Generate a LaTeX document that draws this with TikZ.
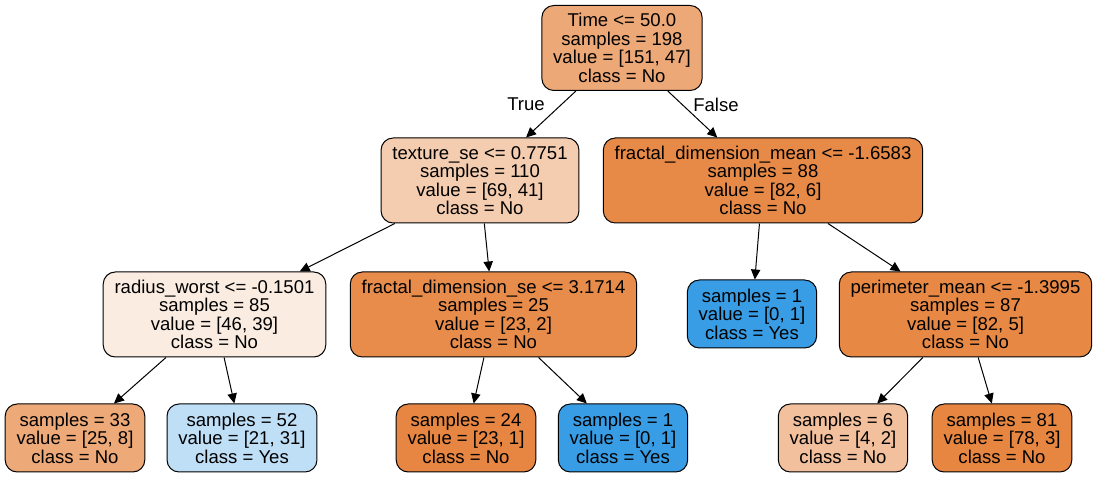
\documentclass[tikz,border=0pt]{standalone}
\usepackage{fontspec}
\setmainfont{Liberation Sans}
\usetikzlibrary{arrows.meta}
\definecolor{nroot}{HTML}{EDA877}
\definecolor{ntex}{HTML}{F4CCAF}
\definecolor{nfdm}{HTML}{E78A47}
\definecolor{nrad}{HTML}{FBECE1}
\definecolor{nfds}{HTML}{E78C4A}
\definecolor{nyes}{HTML}{399DE5}
\definecolor{nper}{HTML}{E78945}
\definecolor{nla}{HTML}{EDA978}
\definecolor{nlb}{HTML}{BFDFF7}
\definecolor{nlc}{HTML}{E68642}
\definecolor{nld}{HTML}{F2C09C}
\definecolor{nle}{HTML}{E68641}
\begin{document}
\begin{tikzpicture}[x=0.75pt,y=-0.75pt,
  txt/.style={font=\fontsize{13.9}{13.9}\selectfont},
  box/.style={txt, draw=black, line width=0.75pt, rounded corners=9pt,
    align=center, inner xsep=8.5pt, inner ysep=0pt},
  split/.style={box, minimum height=63.75pt},
  leaf/.style={box, minimum height=51pt},
  edge/.style={-{Triangle[length=7.5pt,width=7pt]}, line width=0.75pt}]
\useasboundingbox (0,0) rectangle (1097,477);
% top
\node[split, fill=nroot] (root) at (622,48) {Time <= 50.0\\samples = 198\\value = [151, 47]\\class = No};
% second row
\node[split, fill=ntex] (tex) at (480,180.5) {texture\_se <= 0.7751\\samples = 110\\value = [69, 41]\\class = No};
\node[split, fill=nfdm] (fdm) at (763,180.5) {fractal\_dimension\_mean <= -1.6583\\samples = 88\\value = [82, 6]\\class = No};
% third row
\node[split, fill=nrad] (rad) at (214.5,314.5) {radius\_worst <= -0.1501\\samples = 85\\value = [46, 39]\\class = No};
\node[split, fill=nfds] (fds) at (493.5,314.5) {fractal\_dimension\_se <= 3.1714\\samples = 25\\value = [23, 2]\\class = No};
\node[leaf, fill=nyes] (one) at (752,314) {samples = 1\\value = [0, 1]\\class = Yes};
\node[split, fill=nper] (per) at (965.5,314.5) {perimeter\_mean <= -1.3995\\samples = 87\\value = [82, 5]\\class = No};
% leaves
\node[leaf, fill=nla] (la) at (75,438) {samples = 33\\value = [25, 8]\\class = No};
\node[leaf, fill=nlb] (lb) at (242,438) {samples = 52\\value = [21, 31]\\class = Yes};
\node[leaf, fill=nlc] (lc) at (466,438) {samples = 24\\value = [23, 1]\\class = No};
\node[leaf, fill=nyes] (ld) at (623,438) {samples = 1\\value = [0, 1]\\class = Yes};
\node[leaf, fill=nld] (le) at (843,438) {samples = 6\\value = [4, 2]\\class = No};
\node[leaf, fill=nle] (lf) at (1002,438) {samples = 81\\value = [78, 3]\\class = No};
% edges
\draw[edge] (root) -- (tex);
\draw[edge] (root) -- (fdm);
\node[txt] (true) at (526,104.5) {True};
\node[txt] (false) at (716,104.5) {False};
\draw[edge] (tex) -- (rad);
\draw[edge] (tex) -- (fds);
\draw[edge] (fdm) -- (one);
\draw[edge] (fdm) -- (per);
\draw[edge] (rad) -- (la);
\draw[edge] (rad) -- (lb);
\draw[edge] (fds) -- (lc);
\draw[edge] (fds) -- (ld);
\draw[edge] (per) -- (le);
\draw[edge] (per) -- (lf);
\end{tikzpicture}
\end{document}
